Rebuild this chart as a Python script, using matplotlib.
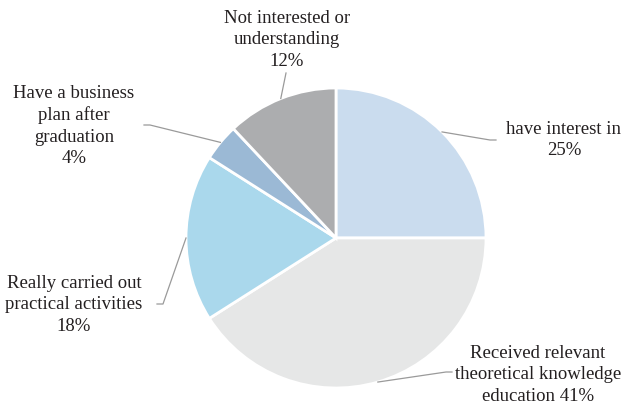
import numpy as np
import matplotlib
matplotlib.use("Agg")
import matplotlib.pyplot as plt

# data
labels = ["have interest in\n25%",
          "Received relevant\ntheoretical knowledge\neducation 41%",
          "Really carried out\npractical activities\n18%",
          "Have a business\nplan after\ngraduation\n4%",
          "Not interested or\nunderstanding\n12%"]
values = [25, 41, 18, 4, 12]
colors = ["#cadcee", "#e6e7e7", "#aad8ec", "#9bb9d5", "#acadaf"]

# label layout in pixel space (x, y from top), and elbow points of leaders
text_pos = [(564, 140), (538, 375), (74, 305), (74, 126), (287, 40)]
elbow = [(490, 141), (446, 373), (163, 305), (150, 126), (286, 74)]
tail = [(496, 141), (452, 373), (157, 305), (144, 126), None]

W, H = 625, 406
cx, cy, R = 336, 239, 150

plt.rcParams['font.family'] = ['Liberation Serif', 'DejaVu Serif']

fig = plt.figure(figsize=(6.25, 4.06), dpi=100)
ax = fig.add_axes([0, 0, 1, 1])
wedges, _ = ax.pie(values, colors=colors, startangle=90, counterclock=False,
                   center=(cx, H - cy), radius=R,
                   wedgeprops=dict(edgecolor='white', linewidth=2))
ax.set_xlim(0, W)
ax.set_ylim(0, H)
ax.set_aspect('equal')
ax.axis('off')

for i, w in enumerate(wedges):
    ang = np.deg2rad((w.theta1 + w.theta2) / 2)
    px = cx + R * np.cos(ang)
    py = (H - cy) + R * np.sin(ang)
    ex, ey = elbow[i]
    xs = [px, ex]
    ys = [py, H - ey]
    if tail[i] is not None:
        xs.append(tail[i][0])
        ys.append(H - tail[i][1])
    ax.plot(xs, ys, color='#9a9a9a', linewidth=0.9)
    tx, ty = text_pos[i]
    ax.text(tx, H - ty, labels[i], ha='center', va='center', fontsize=13.5,
            color='#231f20', linespacing=1.32)

fig.savefig("out.png", dpi=100)
